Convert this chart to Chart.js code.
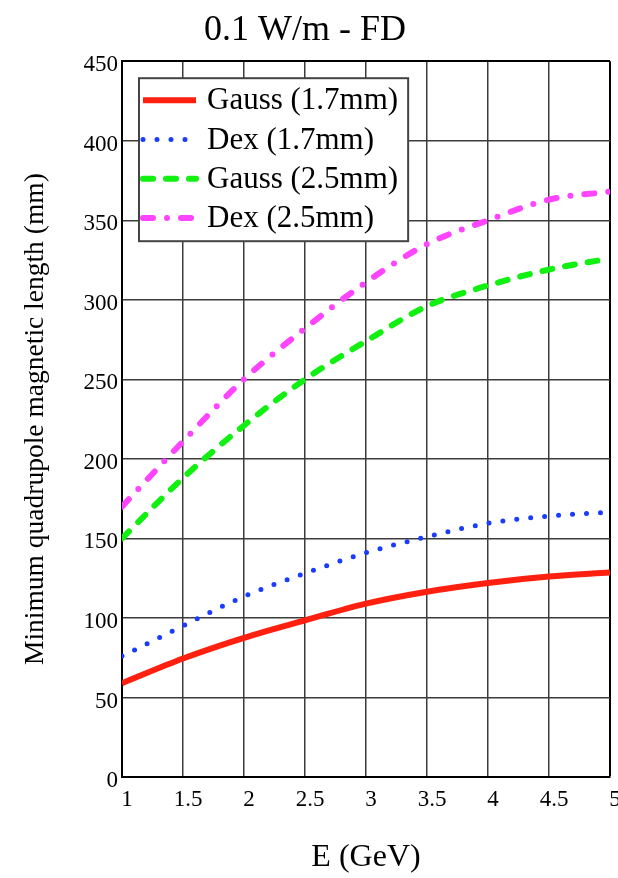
<!DOCTYPE html>
<html>
<head>
<meta charset="utf-8">
<script src="https://cdn.jsdelivr.net/npm/chart.js@4/dist/chart.umd.min.js"></script>
<style>
  html, body { margin: 0; padding: 0; background: #fff; }
  #chart { display: block; }
</style>
</head>
<body>
<canvas id="chart" width="618" height="878"></canvas>
<script>
// beam energy (GeV) and minimum quadrupole length (mm)
const energies = [1, 1.5, 2, 2.5, 3, 3.5, 4, 4.5, 5];
const gauss17 = [59, 74.5, 87.5, 98.5, 109, 116.5, 122, 126, 128.5];
const dex17 = [76, 95, 113.5, 128, 141, 151, 159.5, 164, 166.5];
const gauss25 = [150, 188, 221, 250, 274, 296, 309, 319, 326];
const dex25 = [170, 211, 250, 282, 311, 335, 350, 363, 368];

const seriesLabels = ['Gauss (1.7mm)', 'Dex (1.7mm)', 'Gauss (2.5mm)', 'Dex (2.5mm)'];
const xTicks = [1, 1.5, 2, 2.5, 3, 3.5, 4, 4.5, 5];
const yTicks = [0, 50, 100, 150, 200, 250, 300, 350, 400, 450];

const SERIF = "'Liberation Serif', 'DejaVu Serif', serif";
Chart.defaults.font.family = SERIF;
Chart.defaults.color = '#000';

const toPoints = vals => energies.map((e, i) => ({ x: e, y: vals[i] }));

// legend box drawn inside the plot, top-left, like the original
const boxLegend = {
    id: 'boxLegend',
    afterDatasetsDraw(chart) {
        const { ctx, chartArea } = chart;
        const x0 = chartArea.left + 17;
        const y0 = chartArea.top + 17;
        const rowH = 39.3;
        ctx.save();
        ctx.font = '31px ' + SERIF;
        const maxW = Math.max(...chart.data.datasets.map(d => ctx.measureText(d.label).width));
        const w = 68 + maxW + 10;
        const h = 163;
        ctx.fillStyle = '#fff';
        ctx.fillRect(x0, y0, w, h);
        ctx.strokeStyle = '#444';
        ctx.lineWidth = 2;
        ctx.strokeRect(x0, y0, w, h);
        chart.data.datasets.forEach((ds, i) => {
            const y = y0 + 22 + i * rowH;
            ctx.beginPath();
            ctx.setLineDash(ds.borderDash || []);
            ctx.lineCap = ds.borderCapStyle || 'butt';
            ctx.strokeStyle = ds.borderColor;
            ctx.lineWidth = ds.borderWidth;
            ctx.moveTo(x0 + 4, y);
            ctx.lineTo(x0 + 57, y);
            ctx.stroke();
            ctx.setLineDash([]);
            ctx.fillStyle = '#000';
            ctx.textBaseline = 'middle';
            ctx.fillText(ds.label, x0 + 68, y + 1);
        });
        ctx.restore();
    }
};

const edgeColor = (v, edge) => (v === edge ? '#000' : '#3c3c3c');

const ctx = document.getElementById('chart').getContext('2d');
new Chart(ctx, {
    type: 'line',
    data: {
        datasets: [
            {
                label: seriesLabels[0],
                data: toPoints(gauss17),
                borderColor: '#ff2010',
                borderWidth: 6,
                borderCapStyle: 'butt',
            },
            {
                label: seriesLabels[1],
                data: toPoints(dex17),
                borderColor: '#1a3cff',
                borderWidth: 5,
                borderDash: [0, 14],
                borderCapStyle: 'round',
            },
            {
                label: seriesLabels[2],
                data: toPoints(gauss25),
                borderColor: '#11f011',
                borderWidth: 6,
                borderDash: [10, 13],
                borderCapStyle: 'round',
            },
            {
                label: seriesLabels[3],
                data: toPoints(dex25),
                borderColor: '#ff44ff',
                borderWidth: 6,
                borderDash: [10, 14, 0, 14],
                borderCapStyle: 'round',
            },
        ]
    },
    options: {
        responsive: false,
        animation: false,
        elements: {
            point: { radius: 0 },
            line: { cubicInterpolationMode: 'monotone', fill: false },
        },
        layout: { padding: { top: 0, right: 8, bottom: 0, left: 0 } },
        plugins: {
            legend: { display: false },
            tooltip: { enabled: false },
            title: {
                display: true,
                text: '0.1 W/m - FD',
                color: '#000',
                font: { size: 36, weight: 'normal' },
                padding: { top: 9, bottom: 9 },
            },
        },
        scales: {
            x: {
                type: 'linear',
                min: 1,
                max: 5,
                afterBuildTicks: s => { s.ticks = xTicks.map(v => ({ value: v })); },
                afterFit: s => {
                    s.height = 101;
                    s.paddingLeft = 0;
                    s.paddingRight = 0;
                },
                grid: {
                    drawTicks: false,
                    color: c => edgeColor(c.tick && c.tick.value, 5),
                    lineWidth: c => (c.tick && c.tick.value === 5 ? 2 : 1.5),
                },
                border: { color: '#000', width: 2 },
                ticks: {
                    font: { size: 23 },
                    color: '#000',
                    padding: 9,
                    labelOffset: 5,
                    maxRotation: 0,
                    autoSkip: false,
                    callback: v => String(v),
                },
                title: {
                    display: true,
                    text: 'E (GeV)',
                    color: '#000',
                    font: { size: 32 },
                    padding: { top: 0, bottom: 1 },
                },
            },
            y: {
                min: 0,
                max: 450,
                afterBuildTicks: s => { s.ticks = yTicks.map(v => ({ value: v })); },
                afterFit: s => { s.width = 122; },
                grid: {
                    drawTicks: false,
                    color: c => edgeColor(c.tick && c.tick.value, 450),
                    lineWidth: c => (c.tick && c.tick.value === 450 ? 2 : 1.5),
                },
                border: { color: '#000', width: 2 },
                ticks: {
                    font: { size: 23 },
                    color: '#000',
                    padding: 4,
                    labelOffset: 4,
                    callback: v => String(v),
                },
                title: {
                    display: true,
                    text: 'Minimum quadrupole magnetic length (mm)',
                    color: '#000',
                    font: { size: 27.5 },
                    padding: { top: 19, bottom: 0 },
                },
            },
        },
    },
    plugins: [boxLegend],
});
</script>
</body>
</html>
